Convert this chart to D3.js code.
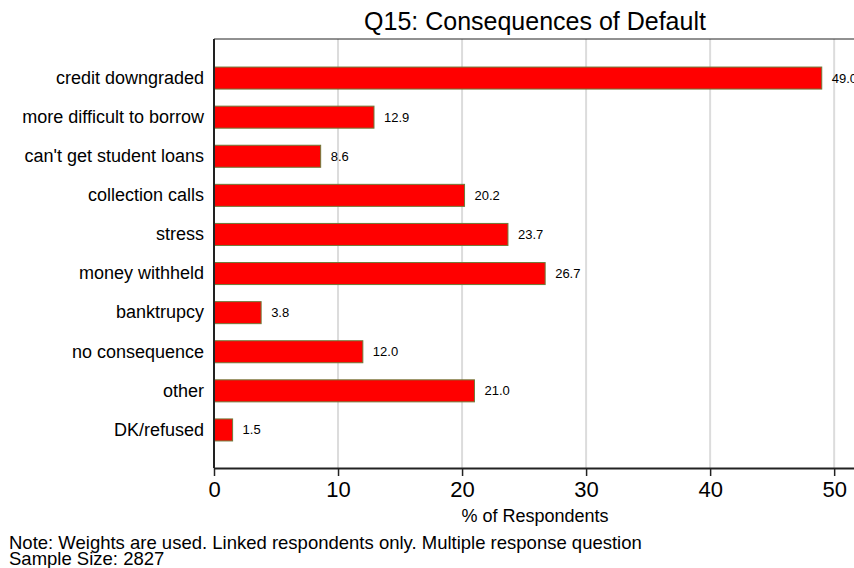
<!DOCTYPE html>
<html>
<head>
<meta charset="utf-8">
<script src="https://cdn.jsdelivr.net/npm/d3@7"></script>
<style>
  body { margin: 0; background: #fff; }
  text { font-family: Arial, "Liberation Sans", sans-serif; fill: #000; }
</style>
</head>
<body>
<div id="chart"></div>
<script>
// Chart data
const categories = ["credit downgraded", "more difficult to borrow", "can't get student loans",
    "collection calls", "stress", "money withheld", "banktrupcy", "no consequence", "other", "DK/refused"];
const values = [49.0, 12.9, 8.6, 20.2, 23.7, 26.7, 3.8, 12.0, 21.0, 1.5];
const xTicks = [0, 10, 20, 30, 40, 50];

const width = 854, height = 568;
const margin = {top: 39, right: 0, bottom: 100, left: 214};
const innerW = width - margin.left - margin.right;
const innerH = height - margin.top - margin.bottom;

const svg = d3.select("#chart").append("svg")
    .attr("width", width)
    .attr("height", height);

// title
svg.append("text")
    .attr("x", 535).attr("y", 30)
    .attr("text-anchor", "middle")
    .style("font-size", "25px")
    .text("Q15: Consequences of Default");

const g = svg.append("g").attr("transform", `translate(${margin.left},${margin.top})`);

const x = d3.scaleLinear().domain([0, 51.6]).range([0, innerW]);
const y = d3.scaleBand().domain(categories).range([8.5, 421.5]).paddingInner(0.437).paddingOuter(0.5);

// gridlines
g.selectAll(".grid")
    .data(xTicks.filter(d => d > 0))
    .join("line")
    .attr("class", "grid")
    .attr("x1", d => x(d)).attr("x2", d => x(d))
    .attr("y1", 0).attr("y2", innerH)
    .attr("stroke", "#dcdcdc")
    .attr("stroke-width", 2);

// top frame
g.append("line")
    .attr("x1", 0).attr("x2", innerW)
    .attr("y1", 0).attr("y2", 0)
    .attr("stroke", "#222").attr("stroke-width", 1);

// bars
g.selectAll(".bar")
    .data(values)
    .join("rect")
    .attr("class", "bar")
    .attr("x", x(0))
    .attr("y", (d, i) => y(categories[i]))
    .attr("width", d => x(d) - x(0))
    .attr("height", y.bandwidth())
    .attr("fill", "#ff0000")
    .attr("stroke", "#6f7a3a")
    .attr("stroke-width", 1);

// value labels
g.selectAll(".val")
    .data(values)
    .join("text")
    .attr("class", "val")
    .attr("x", d => x(d) + 10)
    .attr("y", (d, i) => y(categories[i]) + y.bandwidth() / 2)
    .attr("dy", "0.35em")
    .style("font-size", "13px")
    .text(d => d.toFixed(1));

// y axis (category labels)
const yAxis = g.append("g")
    .call(d3.axisLeft(y).tickSize(0).tickPadding(10));
yAxis.select(".domain").remove();
yAxis.selectAll("text")
    .style("font-size", "18px")
    .attr("fill", "#000");
g.append("line")
    .attr("x1", 0).attr("x2", 0)
    .attr("y1", 0).attr("y2", innerH)
    .attr("stroke", "#222").attr("stroke-width", 2);

// x axis
const xAxis = g.append("g")
    .attr("transform", `translate(0,${innerH})`)
    .call(d3.axisBottom(x).tickValues(xTicks).tickSize(8).tickPadding(5).tickSizeOuter(0));
xAxis.select(".domain").attr("stroke", "#222").attr("stroke-width", 2);
xAxis.selectAll(".tick line").attr("stroke", "#222").attr("stroke-width", 1.5);
xAxis.selectAll("text")
    .style("font-size", "22px")
    .attr("fill", "#000");

// axis title
svg.append("text")
    .attr("x", 535).attr("y", 522)
    .attr("text-anchor", "middle")
    .style("font-size", "18px")
    .text("% of Respondents");

// notes
svg.append("text")
    .attr("x", 9).attr("y", 549)
    .style("font-size", "18.5px")
    .text("Note: Weights are used. Linked respondents only. Multiple response question");
svg.append("text")
    .attr("x", 9).attr("y", 565)
    .style("font-size", "18.5px")
    .text("Sample Size: 2827");
</script>
</body>
</html>
